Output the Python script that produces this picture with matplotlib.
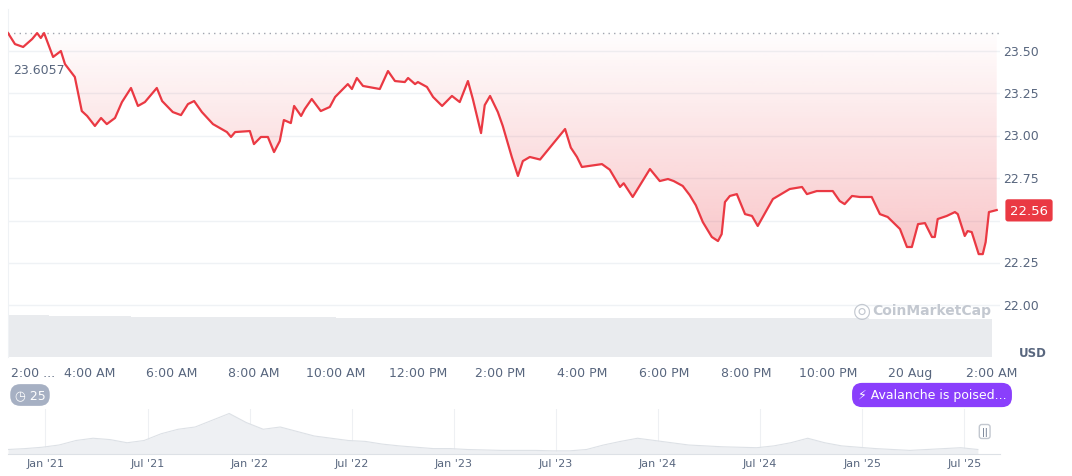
import numpy as np
import matplotlib.pyplot as plt

# hours since 19 Aug 00:00
hours = [2.0, 2.17, 2.37, 2.59, 2.71, 2.80, 2.88, 3.10, 3.29, 3.39,
         3.63, 3.80, 3.93, 4.12, 4.27, 4.41, 4.61, 4.78, 5.00, 5.17,
         5.34, 5.63, 5.76, 6.02, 6.22, 6.39, 6.54, 6.73, 7.00, 7.34,
         7.44, 7.54, 7.90, 8.00, 8.17, 8.34, 8.49, 8.63, 8.73, 8.90,
         8.98, 9.15, 9.24, 9.41, 9.63, 9.85, 9.98, 10.29, 10.39, 10.51,
         10.66, 11.07, 11.27, 11.44, 11.68, 11.76, 11.93, 12.00, 12.22, 12.37,
         12.59, 12.83, 13.02, 13.22, 13.34, 13.54, 13.63, 13.76, 13.95, 14.07,
         14.29, 14.44, 14.56, 14.73, 14.98, 15.59, 15.73, 15.88, 16.00, 16.49,
         16.68, 16.93, 17.02, 17.24,
         17.66, 17.90, 18.10, 18.24, 18.46, 18.63, 18.78, 18.95, 19.17, 19.32,
         19.41, 19.49, 19.61, 19.78,
         19.98, 20.15, 20.29, 20.66, 21.07, 21.37, 21.49, 21.73, 22.12, 22.29,
         22.41, 22.59, 22.78, 23.07, 23.27, 23.46, 23.76, 23.93, 24.05, 24.20,
         24.37, 24.54, 24.61, 24.68, 24.90, 25.10, 25.17, 25.34, 25.41, 25.51,
         25.68, 25.78, 25.85, 25.93, 26.12]
price = [23.606, 23.541, 23.524, 23.571, 23.606, 23.577, 23.606, 23.465, 23.500, 23.423,
         23.347, 23.146, 23.117, 23.058, 23.105, 23.069, 23.105, 23.199, 23.282, 23.176,
         23.199, 23.282, 23.205, 23.140, 23.122, 23.187, 23.205, 23.140, 23.069, 23.022,
         22.993, 23.022, 23.028, 22.951, 22.993, 22.993, 22.904, 22.969, 23.093, 23.075,
         23.176, 23.117, 23.158, 23.217, 23.146, 23.170, 23.229, 23.305, 23.276, 23.341,
         23.294, 23.276, 23.382, 23.323, 23.317, 23.341, 23.305, 23.317, 23.288, 23.229,
         23.176, 23.235, 23.199, 23.323, 23.217, 23.016, 23.181, 23.235, 23.140, 23.058,
         22.875, 22.763, 22.851, 22.875, 22.860, 23.040, 22.930, 22.875, 22.816, 22.833,
         22.800, 22.698, 22.720, 22.639,
         22.804, 22.733, 22.745, 22.733, 22.704, 22.650, 22.590, 22.491, 22.403, 22.379,
         22.420, 22.609, 22.645, 22.656,
         22.538, 22.527, 22.468, 22.627, 22.686, 22.698, 22.656, 22.674, 22.674, 22.615,
         22.597, 22.645, 22.639, 22.639, 22.538, 22.521, 22.450, 22.344, 22.344, 22.479,
         22.485, 22.403, 22.403, 22.509, 22.527, 22.550, 22.538, 22.409, 22.438, 22.432,
         22.302, 22.302, 22.373, 22.550, 22.562]
ref_price = 23.6057
last_price = 22.56

price_ticks = [22.00, 22.25, 22.50, 22.75, 23.00, 23.25, 23.50]
time_ticks = [2, 4, 6, 8, 10, 12, 14, 16, 18, 20, 22, 24, 26]
time_labels = ['2:00 ...', '4:00 AM', '6:00 AM', '8:00 AM', '10:00 AM', '12:00 PM', '2:00 PM',
               '4:00 PM', '6:00 PM', '8:00 PM', '10:00 PM', '20 Aug', '2:00 AM']

# hourly volume (relative)
vol_hours = list(range(2, 26))
volume = [0.88, 0.86, 0.85, 0.84, 0.84, 0.83, 0.83, 0.83, 0.82, 0.82, 0.82, 0.82, 0.82,
          0.82, 0.81, 0.81, 0.81, 0.81, 0.81, 0.81, 0.81, 0.80, 0.80, 0.80]

# long term history, monthly from Nov 2020 (relative)
hist = [0.10, 0.12, 0.15, 0.20, 0.30, 0.35, 0.32, 0.25, 0.30, 0.45, 0.55, 0.60,
        0.75, 0.90, 0.70, 0.55, 0.60, 0.50, 0.40, 0.35, 0.30, 0.28, 0.22, 0.18,
        0.15, 0.12, 0.12, 0.10, 0.09, 0.08, 0.08, 0.08, 0.07, 0.07, 0.10, 0.20,
        0.28, 0.35, 0.30, 0.25, 0.20, 0.18, 0.16, 0.15, 0.14, 0.18, 0.25, 0.35,
        0.25, 0.18, 0.15, 0.12, 0.10, 0.08, 0.10, 0.12, 0.14, 0.10]
hist_ticks = [2.2, 8.2, 14.2, 20.2, 26.2, 32.2, 38.2, 44.2, 50.2, 56.2]
hist_labels = ["Jan '21", "Jul '21", "Jan '22", "Jul '22", "Jan '23", "Jul '23",
               "Jan '24", "Jul '24", "Jan '25", "Jul '25"]

W, H = 1072, 477
RED = '#ea3943'
GREY = '#58667e'
GRID = '#eff2f5'
fig = plt.figure(figsize=(W / 100, H / 100), dpi=100)

ax = fig.add_axes([8 / W, (H - 358) / H, 992 / W, 348 / H])
ylo, yhi = 21.695, 23.748
for t in price_ticks:
    ax.axhline(t, color=GRID, lw=1, zorder=0)
ax.axhline(ref_price, color='#a0a6b0', lw=1, ls=(0, (1, 3)), zorder=1)

# gradient fill between line and reference
poly = ax.fill_between(hours, price, ref_price, color='none', lw=0)
grad = np.zeros((200, 2, 4))
grad[..., :3] = np.array([234, 57, 67]) / 255
grad[..., 3] = np.linspace(0.30, 0.01, 200)[:, None]
img = ax.imshow(grad, extent=[2.0, 26.2, 22.25, ref_price], origin='lower',
                aspect='auto', zorder=1)
img.set_clip_path(poly.get_paths()[0], transform=ax.transData)
ax.set_xlim(2.0, 26.2)
ax.set_ylim(ylo, yhi)
ax.plot(hours, price, color=RED, lw=1.6, zorder=3)

ax.set_xticks([])
ax.set_yticks([])
for s in ['top', 'bottom', 'right']:
    ax.spines[s].set_visible(False)
ax.spines['left'].set_color(GRID)
ax.patch.set_alpha(0)

ax.text(2.13, 23.39, '23.6057', color=GREY, fontsize=9, va='center')

# volume
vax = fig.add_axes([8 / W, (H - 358) / H, 992 / W, 48 / H], zorder=-1)
vax.bar([h + 0.5 for h in vol_hours], volume, width=1.0, color='#e9ebee', lw=0)
vax.set_xlim(2.0, 26.2)
vax.set_ylim(0, 1)
vax.axis('off')

# right axis labels
for t in price_ticks:
    if t == 22.50:
        continue
    yf = ((t - ylo) / (yhi - ylo) * 348 + (H - 358)) / H
    fig.text(1003 / W, yf, f'{t:.2f}', color=GREY, fontsize=9, va='center')
fig.text(1019 / W, (H - 354) / H, 'USD', color=GREY, fontsize=8.5, va='center', weight='bold')
yf = ((last_price - ylo) / (yhi - ylo) * 348 + (H - 358)) / H
fig.text(1029 / W, yf, f'{last_price:.2f}', color='white', fontsize=9.5, va='center', ha='center',
         bbox=dict(boxstyle='round,pad=0.35,rounding_size=0.2', fc=RED, ec='none'))

# time labels
for t, lab in zip(time_ticks, time_labels):
    xf = (8 + (t - 2.0) / 24.2 * 992) / W
    ha = 'left' if t == 2 else 'center'
    fig.text(xf + (0.003 if t == 2 else 0), (H - 374) / H, lab, color=GREY, fontsize=9,
             ha=ha, va='center')

fig.text(872 / W, (H - 311) / H, 'CoinMarketCap', color='#c3c8d0', fontsize=10,
         va='center', weight='semibold')
fig.text(862 / W, (H - 311) / H, '\u25ce', color='#c3c8d0', fontsize=15, va='center', ha='center')

# badges
fig.text(30 / W, (H - 396) / H, '\u25f7 25', color='white', fontsize=9, va='center', ha='center',
         bbox=dict(boxstyle='round,pad=0.35,rounding_size=0.8', fc='#a6b0c3', ec='none'))
fig.text(932 / W, (H - 396) / H, '\u26a1 Avalanche is poised...', color='white', fontsize=9,
         va='center', ha='center',
         bbox=dict(boxstyle='round,pad=0.45,rounding_size=0.8', fc='#8a3ffc', ec='none'))

# navigator
nax = fig.add_axes([8 / W, (H - 455) / H, 992 / W, 45 / H])
mx = np.arange(len(hist))
nax.fill_between(mx, hist, 0, color='#eef0f3', lw=0)
nax.plot(mx, hist, color='#dde1e6', lw=0.8)
nax.set_xlim(0, 58.3)
nax.set_ylim(0, 1)
for t in hist_ticks:
    nax.axvline(t, color='#eef0f3', lw=0.8, zorder=0)
nax.set_xticks(hist_ticks)
nax.set_xticklabels(hist_labels, color=GREY, fontsize=8)
nax.tick_params(length=0, pad=3)
nax.set_yticks([])
for s in ['top', 'left', 'right']:
    nax.spines[s].set_visible(False)
nax.spines['bottom'].set_color('#dde1e6')
nax.text(57.4, 0.5, '||', color=GREY, fontsize=6, ha='center', va='center',
         bbox=dict(boxstyle='round,pad=0.3', fc='white', ec='#c3c8d0'))

fig.savefig('out.png', dpi=100)
